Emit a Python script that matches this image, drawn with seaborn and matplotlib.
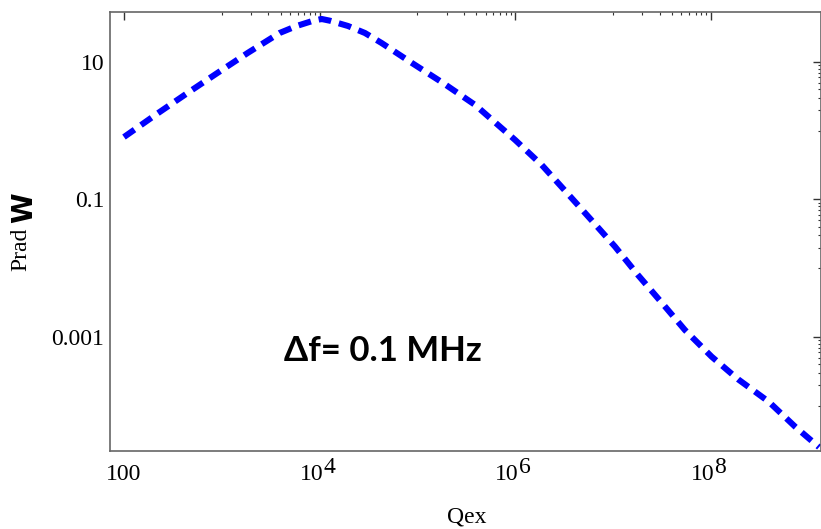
import numpy as np
import pandas as pd
import matplotlib
matplotlib.use("Agg")
import matplotlib.pyplot as plt
from matplotlib.ticker import FixedLocator, NullFormatter
import seaborn as sns

# Radiated power versus external Q, frequency offset 0.1 MHz
qex = [1.0e2, 2.16e2, 4.5e2, 9.1e2, 1.85e3, 3.9e3, 5.83e3, 8.6e3, 1.05e4,
       1.28e4, 1.95e4, 2.91e4, 4.3e4, 8.7e4, 1.83e5, 3.9e5, 1.0e6, 1.87e6,
       3.3e6, 5.8e6, 1.05e7, 1.8e7, 3.15e7, 5.45e7, 1.02e8, 1.9e8, 3.9e8,
       7.3e8, 1.28e9]
prad = [0.81, 1.75, 3.57, 6.98, 13.6, 26.4, 33.4, 39.8, 42.2,
        39.8, 33.4, 26.4, 18.9, 9.77, 4.95, 2.37, 0.733, 0.318,
        0.130, 0.0532, 0.0206, 0.00798, 0.00316, 0.00126, 5.18e-4, 2.43e-4, 1.15e-4,
        4.95e-5, 2.5e-5]

# Tick values and their labels: (mantissa, exponent); exponent None -> plain label
x_major = [1e2, 1e4, 1e6, 1e8]
x_labels = [("100", None), ("10", "4"), ("10", "6"), ("10", "8")]
y_major = [1e1, 1e-1, 1e-3]
y_labels = ["10", "0.1", "0.001"]
annotation = "\u0394f= 0.1 MHz"
annotation_pos = (4.45e4, 6.3e-4)

df = pd.DataFrame({"Qex": qex, "Prad": prad})

sns.set_theme(style="white")
plt.rcParams["font.family"] = ["Liberation Serif", "DejaVu Serif"]
plt.rcParams["text.color"] = "black"

fig = plt.figure(figsize=(8.21, 5.29), dpi=100)
ax = fig.add_axes([110 / 821, 1 - 451 / 529, 711 / 821, 439 / 529])

sns.lineplot(data=df, x="Qex", y="Prad", ax=ax, color="#0000ff", lw=4.4,
             linestyle=(0, (2.1, 1.3)), dash_capstyle="butt", sort=False)

ax.set_xscale("log")
ax.set_yscale("log")
ax.set_xlim(10 ** 1.857, 10 ** 9.127)
ax.set_ylim(10 ** -4.658, 10 ** 1.727)

# Major ticks every two decades, minor ticks in the decade below each major
x_minor = [k * 10.0 ** e for e in (3, 5, 7) for k in range(1, 10)]
y_minor = [k * 10.0 ** e for e in (-4, -2, 0) for k in range(1, 10)]
ax.xaxis.set_major_locator(FixedLocator(x_major))
ax.xaxis.set_minor_locator(FixedLocator(x_minor))
ax.yaxis.set_major_locator(FixedLocator(y_major))
ax.yaxis.set_minor_locator(FixedLocator(y_minor))
ax.set_xticklabels([])
ax.set_yticklabels(y_labels)
ax.xaxis.set_minor_formatter(NullFormatter())
ax.yaxis.set_minor_formatter(NullFormatter())

ax.tick_params(which="both", direction="in", top=True, right=True,
               color="#333333", labelsize=17, labelcolor="black")
ax.tick_params(which="major", length=5.8, width=1.0)
ax.tick_params(which="minor", length=2.3, width=0.8)
ax.tick_params(axis="y", pad=4)
for sp in ax.spines.values():
    sp.set_color("#666666")
    sp.set_linewidth(1.2)

# x tick labels with full-size raised exponents
for val, (base, exp) in zip(x_major, x_labels):
    if exp is None:
        ax.annotate(base, xy=(val, 0), xycoords=("data", "axes fraction"),
                    xytext=(0, -9.5), textcoords="offset points",
                    ha="center", va="top", fontsize=17)
    else:
        ax.annotate(base, xy=(val, 0), xycoords=("data", "axes fraction"),
                    xytext=(2.5, -9.5), textcoords="offset points",
                    ha="right", va="top", fontsize=17)
        ax.annotate(exp, xy=(val, 0), xycoords=("data", "axes fraction"),
                    xytext=(2.5, -4), textcoords="offset points",
                    ha="left", va="top", fontsize=17)

ax.set_xlabel("")
ax.set_ylabel("")
fig.text(467 / 821, 1 - 517 / 529, "Qex", ha="center", va="center",
         fontsize=17)
fig.text(21 / 821, 1 - 249 / 529, "Prad", ha="center", va="center",
         rotation=90, fontsize=17)
fig.text(24 / 821, 1 - 208 / 529, "W", ha="center", va="center",
         rotation=90, fontsize=20, fontweight="heavy", color="black",
         family=["DejaVu Sans"])

ax.text(*annotation_pos, annotation, ha="center", va="center",
        fontsize=25, fontweight="bold", color="black",
        family=["Lato", "DejaVu Sans"])

fig.savefig("out.png", dpi=100)
